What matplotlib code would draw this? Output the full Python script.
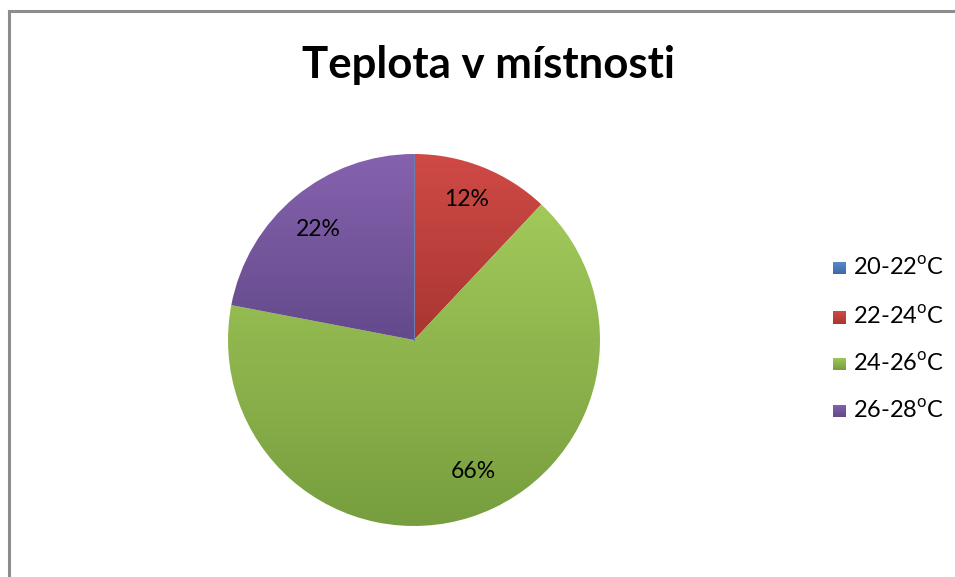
import numpy as np
import matplotlib.pyplot as plt
from matplotlib.patches import Wedge
from matplotlib.colors import LinearSegmentedColormap

plt.rcParams['font.family'] = ['Lato', 'DejaVu Sans']
plt.rcParams['mathtext.fontset'] = 'custom'
plt.rcParams['mathtext.rm'] = 'Lato'

# data
categories = ['20-22', '22-24', '24-26', '26-28']
values = [0, 12, 66, 22]
title = 'Teplota v místnosti'

# gradient colours (top, bottom) per slice
top_colors = ['#5a8ccc', '#d04a46', '#a2c95a', '#8662ae']
bottom_colors = ['#3a6aa8', '#a83632', '#779e3e', '#634a8c']

fig = plt.figure(figsize=(9.55, 5.77), dpi=100)

# chart frame (only left and top edges visible)
fig.add_artist(plt.Line2D([8.5 / 955, 8.5 / 955], [0, 1 - 11 / 577], color='#8c8c8c', lw=2.2))
fig.add_artist(plt.Line2D([8.5 / 955, 1], [1 - 11 / 577, 1 - 11 / 577], color='#8c8c8c', lw=2.2))

cx, cy, r = 414, 340, 186
ax = fig.add_axes([(cx - r) / 955, (577 - cy - r) / 577, 2 * r / 955, 2 * r / 577])
ax.set_xlim(-1, 1)
ax.set_ylim(-1, 1)
ax.set_aspect('equal')
ax.axis('off')

total = sum(values)
start = 90.0
for val, c0, c1 in zip(values, top_colors, bottom_colors):
    ang = 360.0 * val / total
    theta1, theta2 = start - ang, start
    start -= ang
    if val == 0:
        continue
    w = Wedge((0, 0), 1, theta1, theta2, facecolor='none', edgecolor='none')
    ax.add_patch(w)
    # vertical extent of the wedge, gradient runs over it
    ts = np.linspace(theta1, theta2, 200)
    ys = np.concatenate([np.sin(np.radians(ts)), [0]])
    cmap = LinearSegmentedColormap.from_list('g', [c1, c0])
    grad = np.linspace(0, 1, 256).reshape(-1, 1)
    im = ax.imshow(grad, extent=[-1, 1, ys.min(), ys.max()], origin='lower', cmap=cmap,
                   aspect='auto', interpolation='bilinear', zorder=1)
    im.set_clip_path(w)

# label positions (pixel centres)
label_pos = {'12': (467, 199), '66': (473, 472), '22': (318, 230)}
for val in values:
    if val == 0:
        continue
    px, py = label_pos[str(val)]
    fig.text(px / 955, 1 - py / 577, f'{val}%', ha='center', va='center', fontsize=16.5, color='black')

# thin line for the zero slice
ax.plot([0, 0], [0, 1], color='#6a7fb0', lw=0.8, zorder=2)

fig.text(488 / 955, 1 - 78 / 577, title, ha='center', va='baseline', fontsize=31.5, fontweight='bold')

# legend
leg_y = [268, 317, 364, 411]
for cat, c0, c1, y in zip(categories, top_colors, bottom_colors, leg_y):
    sq = fig.add_axes([833 / 955, 1 - (y + 6.5) / 577, 13 / 955, 13 / 577])
    sq.imshow(np.linspace(0, 1, 32).reshape(-1, 1), cmap=LinearSegmentedColormap.from_list('g', [c1, c0]),
              origin='lower', aspect='auto', extent=[0, 1, 0, 1])
    sq.axis('off')
    fig.text(853 / 955, 1 - y / 577, cat + r'$^{\mathrm{o}}$C', ha='left', va='center', fontsize=17)

fig.savefig('out.png', dpi=100)
